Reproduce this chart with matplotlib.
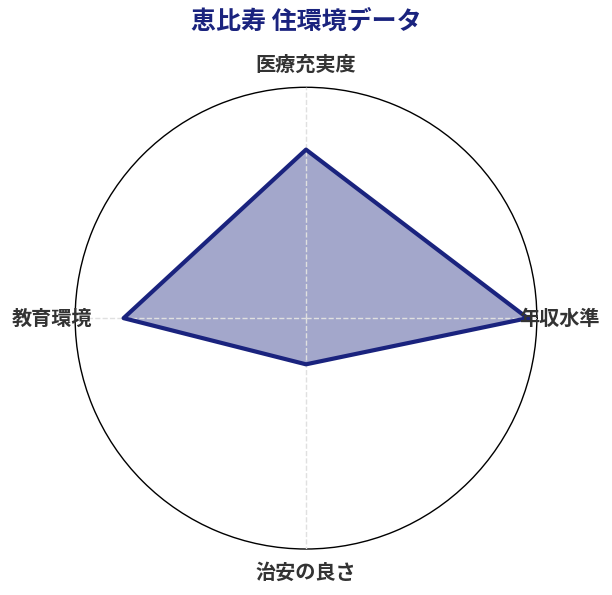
import matplotlib
matplotlib.use('Agg')
import matplotlib.pyplot as plt
import numpy as np

plt.rcParams['font.family'] = ['Noto Sans CJK JP', 'DejaVu Sans']

categories = ['年収水準', '医療充実度', '教育環境', '治安の良さ']
values = [96, 73, 79, 20]
title = '恵比寿 住環境データ'

navy = '#1a237e'

angles = np.linspace(0, 2 * np.pi, len(categories), endpoint=False)
closed_angles = np.concatenate([angles, angles[:1]])
closed_values = values + values[:1]

fig = plt.figure(figsize=(6.12, 5.95), dpi=100)
ax = fig.add_axes([0.1225, 0.0773, 0.755, 0.776], projection='polar')

ax.fill(closed_angles, closed_values, color=navy, alpha=0.4, zorder=2)
ax.plot(closed_angles, closed_values, color=navy, linewidth=3, zorder=3)

ax.set_ylim(0, 100)
ax.set_yticks([])
ax.set_xticks(angles)
ax.set_xticklabels([])
ax.tick_params(axis='x', length=0)
ax.xaxis.grid(True, color='#e0e0e0', linestyle='--', linewidth=1, zorder=4)
ax.set_axisbelow(False)
ax.spines['polar'].set_color('black')
ax.spines['polar'].set_linewidth(1)

# category labels centred just outside the circle
for ang, cat in zip(angles, categories):
    ax.text(ang, 110, cat, ha='center', va='center', fontsize=14.5,
            fontweight='bold', color='#333333', clip_on=False, zorder=5)

fig.text(0.5, 0.964, title, ha='center', va='center', fontsize=18,
         fontweight='bold', color=navy)

fig.savefig('out.png', dpi=100)
